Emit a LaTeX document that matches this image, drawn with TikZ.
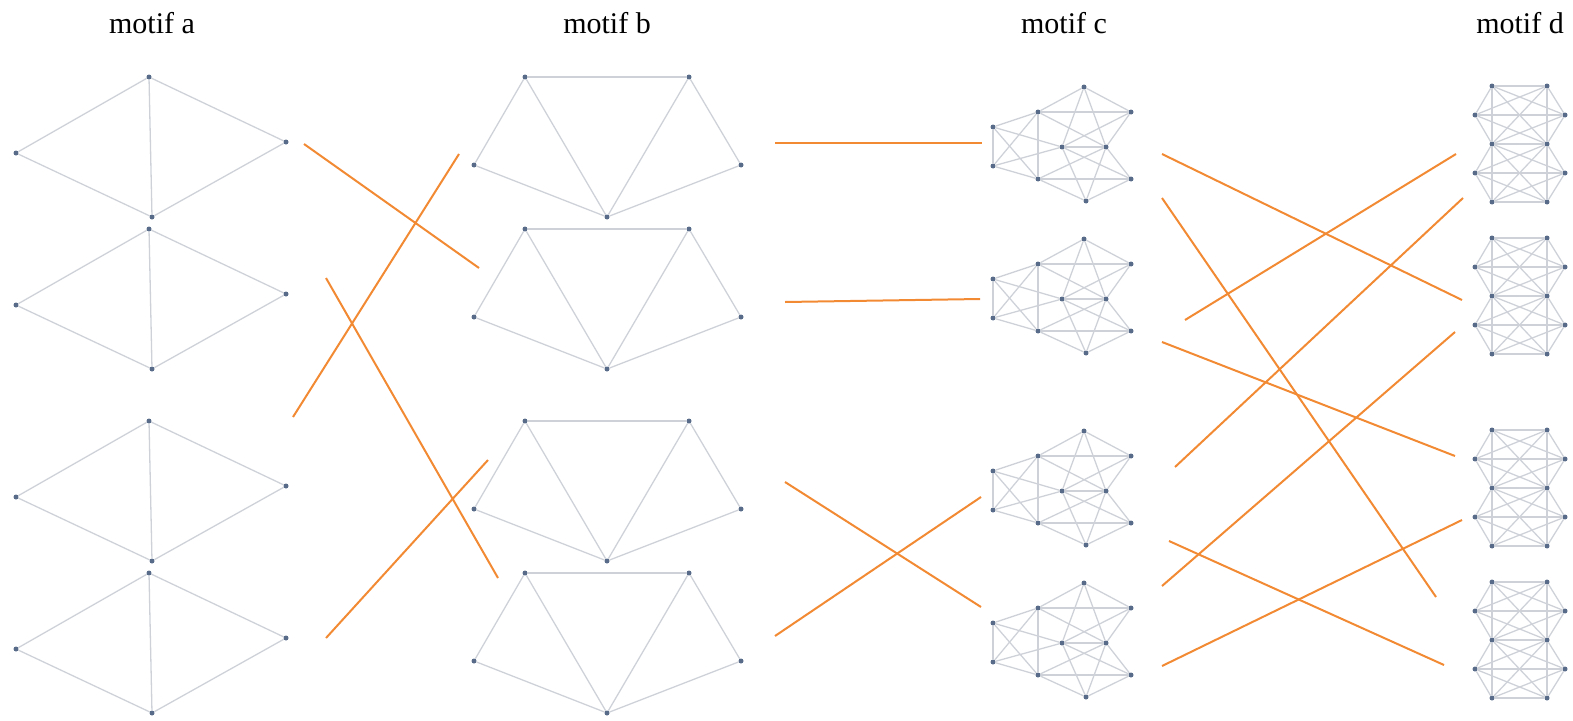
\documentclass[tikz,border=0pt]{standalone}
\usepackage{fontspec}
\setmainfont{Liberation Serif}
\usepackage{tikz}

\definecolor{dotblue}{RGB}{88,108,138}
\definecolor{edgegray}{RGB}{206,210,216}
\definecolor{linkorange}{RGB}{242,138,52}

\tikzset{
  dot/.style={circle, fill=dotblue, inner sep=0pt, minimum size=5pt},
  edge/.style={draw=edgegray, line width=1.3pt},
  link/.style={draw=linkorange, line width=2pt},
  title/.style={anchor=base, font=\fontsize{30}{36}\selectfont}
}

\begin{document}
\begin{tikzpicture}[x=1pt, y=-1pt]
  \useasboundingbox (0, 0) rectangle (1573, 720);

  \node [title] (ta) at (152, 33) {motif a};
  \node [title] (tb) at (607, 33) {motif b};
  \node [title] (tc) at (1064, 33) {motif c};
  \node [title] (td) at (1520, 33) {motif d};

  \foreach \k/\dy in {1/0, 2/152, 3/344, 4/496} {
    % motif a
    \node [dot] (at\k) at (149, {77+\dy}) {};
    \node [dot] (al\k) at (16, {153+\dy}) {};
    \node [dot] (ar\k) at (286, {142+\dy}) {};
    \node [dot] (ab\k) at (152, {217+\dy}) {};
    \foreach \u/\v in {at/al, at/ar, at/ab, al/ab, ar/ab}
      \draw [edge] (\u\k) to (\v\k);

    % motif b
    \node [dot] (btl\k) at (525, {77+\dy}) {};
    \node [dot] (btr\k) at (689, {77+\dy}) {};
    \node [dot] (bl\k) at (474, {165+\dy}) {};
    \node [dot] (br\k) at (741, {165+\dy}) {};
    \node [dot] (bb\k) at (607, {217+\dy}) {};
    \foreach \u/\v in {btl/btr, btl/bl, btl/bb, btr/bb, btr/br, bl/bb, br/bb}
      \draw [edge] (\u\k) to (\v\k);

    % motif c
    \node [dot] (ct\k) at (1084, {87+\dy}) {};
    \node [dot] (ctl\k) at (1038, {112+\dy}) {};
    \node [dot] (ctr\k) at (1131, {112+\dy}) {};
    \node [dot] (cla\k) at (993, {127+\dy}) {};
    \node [dot] (cca\k) at (1062, {147+\dy}) {};
    \node [dot] (ccb\k) at (1106, {147+\dy}) {};
    \node [dot] (clb\k) at (993, {166+\dy}) {};
    \node [dot] (cbl\k) at (1038, {179+\dy}) {};
    \node [dot] (cbr\k) at (1131, {179+\dy}) {};
    \node [dot] (cb\k) at (1086, {201+\dy}) {};
    \foreach \u/\v in {ct/ctl, ct/ctr, ct/cca, ct/ccb, cb/cbl, cb/cbr, cb/cca, cb/ccb,
        ctl/ctr, cbl/cbr, cla/clb, ctl/cbl, cla/ctl, clb/cbl, cla/cca, clb/cca,
        cla/cbl, clb/ctl, ctl/ccb, cbl/ccb, ctr/cca, cbr/cca, cca/ccb, ctr/ccb, cbr/ccb}
      \draw [edge] (\u\k) to (\v\k);

    % motif d
    \node [dot] (dtl\k) at (1492, {86+\dy}) {};
    \node [dot] (dtr\k) at (1547, {86+\dy}) {};
    \node [dot] (dla\k) at (1475, {115+\dy}) {};
    \node [dot] (dra\k) at (1565, {115+\dy}) {};
    \node [dot] (dml\k) at (1492, {144+\dy}) {};
    \node [dot] (dmr\k) at (1547, {144+\dy}) {};
    \node [dot] (dlb\k) at (1475, {173+\dy}) {};
    \node [dot] (drb\k) at (1565, {173+\dy}) {};
    \node [dot] (dbl\k) at (1492, {202+\dy}) {};
    \node [dot] (dbr\k) at (1547, {202+\dy}) {};
    \foreach \u/\v in {dtl/dtr, dla/dra, dml/dmr, dlb/drb, dbl/dbr,
        dtl/dml, dml/dbl, dtr/dmr, dmr/dbr,
        dtl/dla, dla/dml, dml/dlb, dlb/dbl, dtr/dra, dra/dmr, dmr/drb, drb/dbr,
        dtl/dra, dtr/dla, dla/dmr, dra/dml, dml/drb, dmr/dlb, dlb/dbr, drb/dbl,
        dtl/dmr, dtr/dml, dml/dbr, dmr/dbl}
      \draw [edge] (\u\k) to (\v\k);
  }

  % links between motifs
  \foreach \i/\xa/\ya/\xb/\yb in {
      1/304/144/479/268, 2/459/154/293/417, 3/326/278/498/578, 4/488/460/326/638,
      5/775/143/982/143, 6/785/302/980/299, 7/785/482/981/607, 8/775/636/981/497,
      9/1162/154/1462/300, 10/1162/198/1436/597, 11/1185/320/1456/154,
      12/1162/342/1455/456, 13/1175/467/1463/198, 14/1169/541/1444/665,
      15/1162/586/1455/332, 16/1162/666/1462/520} {
    \coordinate (s\i) at (\xa, \ya);
    \coordinate (e\i) at (\xb, \yb);
    \draw [link] (s\i) to (e\i);
  }
\end{tikzpicture}
\end{document}
